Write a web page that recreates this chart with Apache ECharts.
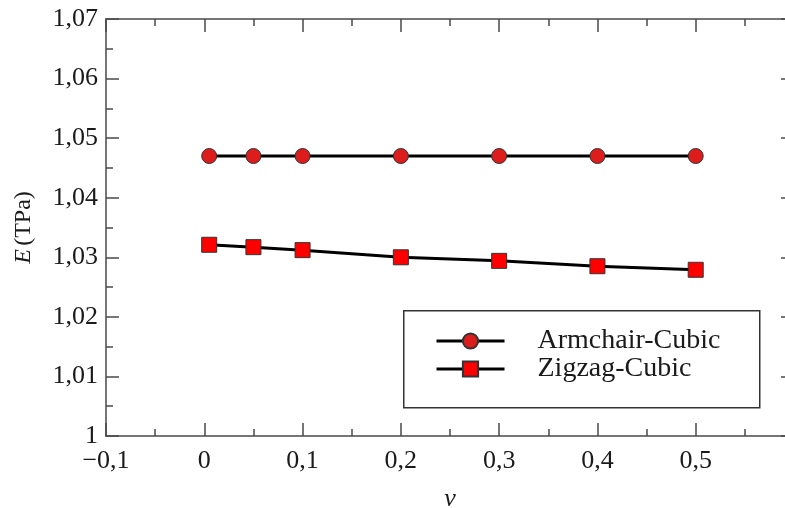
<!DOCTYPE html>
<html>
<head>
<meta charset="utf-8">
<script src="https://cdn.jsdelivr.net/npm/echarts@6/dist/echarts.min.js"></script>
<style>
  html, body { margin: 0; padding: 0; background: #fff; }
  #chart { width: 785px; height: 508px; }
</style>
</head>
<body>
<div id="chart"></div>
<script>
// poisson ratio values
const nu = [0.005, 0.05, 0.1, 0.2, 0.3, 0.4, 0.5];
const armchairCubic = [1.047, 1.047, 1.047, 1.047, 1.047, 1.047, 1.047];
const zigzagCubic = [1.0321, 1.0317, 1.0312, 1.0300, 1.0294, 1.0285, 1.0279];
const seriesNames = ['Armchair-Cubic', 'Zigzag-Cubic'];

const font = '"Liberation Serif", "DejaVu Serif", serif';
const axisColor = '#4a4a4a';

// 0,6 sits past the visible edge, so no label there
const fmtX = v => v > 0.55 ? '' : String(+v.toFixed(1)).replace('.', ',').replace('-', '\u2212');
const fmtY = v => String(+v.toFixed(2)).replace('.', ',');

const baseAxis = {
  axisLine: { show: true, onZero: false, lineStyle: { color: axisColor, width: 1.5 } },
  axisTick: { show: true, inside: true, length: 13, lineStyle: { color: axisColor, width: 1.5 } },
  minorTick: { show: true, splitNumber: 2, length: 7, lineStyle: { color: axisColor, width: 1.5 } },
  splitLine: { show: false }
};

const myChart = echarts.init(document.getElementById('chart'), null, { renderer: 'canvas' });

const option = {
  animation: false,
  backgroundColor: '#fff',
  grid: {
    left: 106,
    top: 19,
    width: 688,
    height: 417,
    outerBoundsMode: 'none'
  },
  xAxis: [
    {
      ...baseAxis,
      type: 'value',
      min: -0.1,
      max: 0.6,
      interval: 0.1,
      position: 'bottom',
      axisLabel: {
        margin: 12,
        fontFamily: font,
        fontSize: 26,
        color: '#1a1a1a',
        formatter: fmtX
      },
      name: '{i|ν}',
      nameLocation: 'middle',
      nameGap: 50,
      nameTextStyle: {
        rich: { i: { fontFamily: font, fontStyle: 'italic', fontSize: 26, color: '#1a1a1a' } }
      }
    },
    {
      ...baseAxis,
      type: 'value',
      min: -0.1,
      max: 0.6,
      interval: 0.1,
      position: 'top',
      axisLabel: { show: false }
    }
  ],
  yAxis: [
    {
      ...baseAxis,
      type: 'value',
      min: 1,
      max: 1.07,
      interval: 0.01,
      position: 'left',
      axisLabel: {
        margin: 8,
        fontFamily: font,
        fontSize: 26,
        color: '#1a1a1a',
        formatter: fmtY
      },
      name: '{i|E} {n|(TPa)}',
      nameLocation: 'middle',
      nameRotate: 90,
      nameGap: 70,
      nameTextStyle: {
        rich: {
          i: { fontFamily: font, fontStyle: 'italic', fontSize: 24, color: '#1a1a1a' },
          n: { fontFamily: font, fontSize: 24, color: '#1a1a1a' }
        }
      }
    },
    {
      ...baseAxis,
      type: 'value',
      min: 1,
      max: 1.07,
      interval: 0.01,
      position: 'right',
      axisLabel: { show: false }
    }
  ],
  legend: {
    orient: 'vertical',
    left: 435,
    top: 327,
    itemWidth: 68,
    itemHeight: 19,
    itemGap: 0,
    padding: 0,
    lineStyle: { width: 3, color: '#000' },
    textStyle: {
      fontFamily: font,
      fontSize: 28,
      color: '#1a1a1a',
      lineHeight: 21,
      padding: [0, 0, 0, 28]
    },
    data: seriesNames
  },
  graphic: [
    {
      type: 'rect',
      left: 403,
      top: 310,
      shape: { width: 356, height: 97 },
      style: { fill: '#fff', stroke: '#333', lineWidth: 1.5 },
      z: 1
    }
  ],
  series: [
    {
      name: seriesNames[0],
      type: 'line',
      data: nu.map((x, i) => [x, armchairCubic[i]]),
      symbol: 'circle',
      symbolSize: 15,
      lineStyle: { color: '#000', width: 3 },
      itemStyle: { color: '#dd1c1c', borderColor: '#333', borderWidth: 1 },
      z: 3
    },
    {
      name: seriesNames[1],
      type: 'line',
      data: nu.map((x, i) => [x, zigzagCubic[i]]),
      symbol: 'rect',
      symbolSize: 15,
      lineStyle: { color: '#000', width: 3 },
      itemStyle: { color: '#ff0000', borderColor: '#333', borderWidth: 1 },
      z: 3
    }
  ]
};

myChart.setOption(option);
</script>
</body>
</html>
